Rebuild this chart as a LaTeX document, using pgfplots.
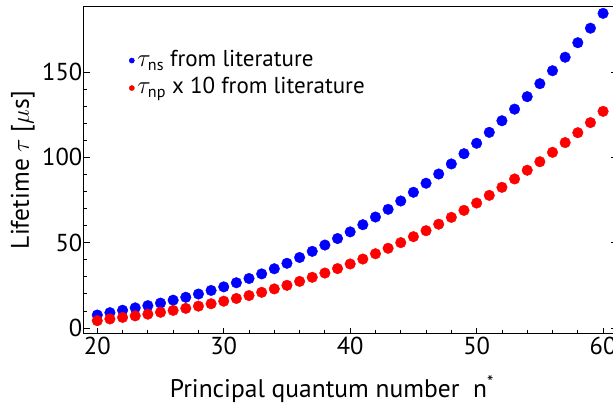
\documentclass[border=0pt]{standalone}
\usepackage{amsmath}
\usepackage{fontspec}
\setmainfont{PT Sans}
\usepackage{pgfplots}
\pgfplotsset{compat=1.18}

\definecolor{nsblue}{RGB}{0,0,255}
\definecolor{npred}{RGB}{255,0,0}

% lifetimes (microseconds); np already multiplied by 10
\pgfplotstableread{
n   ns     np
20  7.6    4.3
21  9.0    5.3
22  10.4   6.2
23  11.8   7.1
24  13.1   8.1
25  14.6   9.2
26  16.3   10.3
27  18.0   11.5
28  19.9   12.8
29  22.0   14.2
30  24.1   15.7
31  26.5   17.3
32  29.0   19.0
33  31.7   20.9
34  34.7   22.9
35  37.9   25.0
36  41.3   27.3
37  44.9   29.7
38  48.6   32.2
39  52.4   34.8
40  56.3   37.5
41  60.5   40.4
42  65.0   43.5
43  69.5   46.7
44  74.4   50.0
45  79.5   53.5
46  84.8   57.0
47  90.2   60.8
48  96.1   64.8
49  102.1  68.9
50  108.2  73.2
51  114.6  77.7
52  121.4  82.4
53  128.2  87.3
54  135.5  92.4
55  143.1  97.4
56  150.7  102.9
57  158.6  108.6
58  167.1  114.4
59  175.6  120.3
60  184.3  126.9
}\lifetimes

\begin{document}
\begin{tikzpicture}
\begin{axis}[
    scale only axis,
    width=533pt,
    height=326.8pt,
    xmin=18.95, xmax=61.1,
    ymin=-3.22, ymax=188.2,
    xtick={20,30,40,50,60},
    ytick={0,50,100,150},
    minor tick num=4,
    xtick pos=left,
    tick align=inside,
    major tick length=6pt,
    minor tick length=3.5pt,
    axis line style={line width=1pt},
    every tick/.style={black, line width=0.8pt},
    /pgf/number format/assume math mode=true,
    tick label style={font=\fontsize{24.5}{28}\selectfont},
    yticklabel style={inner xsep=1.5pt},
    xlabel={Principal quantum number\ \ n\textsuperscript{*}},
    ylabel={Lifetime $\tau$ [$\mu$s]},
    label style={font=\fontsize{25.5}{30}\selectfont},
    xlabel style={at={(axis description cs:0.465,0)}, anchor=base, yshift=-64pt},
    ylabel style={at={(axis description cs:-0.092,0.5)}, anchor=south, inner sep=0pt},
    legend cell align=left,
    legend image code/.code={\draw[#1, mark size=2.6pt] plot coordinates {(0pt,0pt)};},
    legend style={draw=none, fill=none, inner sep=0pt, row sep=3pt,
        at={(axis cs:22.51,148.6)}, anchor=west,
        font=\fontsize{23}{27}\selectfont,
        nodes={inner xsep=3pt, inner ysep=1pt, text height=17pt, text depth=5.5pt}},
]
\addplot[only marks, mark=*, mark size=5.3pt, color=nsblue, mark options={draw=nsblue, fill=nsblue}]
    table[x=n, y=ns] {\lifetimes};
\addlegendentry{$\tau_{\text{ns}}$ from literature}
\addplot[only marks, mark=*, mark size=5.3pt, color=npred, mark options={draw=npred, fill=npred}]
    table[x=n, y=np] {\lifetimes};
\addlegendentry{$\tau_{\text{np}}$ x 10 from literature}
\end{axis}
\pgfresetboundingbox
\path ([xshift=-84pt, yshift=-73.5pt]current axis.south west)
    rectangle ([xshift=529pt, yshift=333.5pt]current axis.south west);
\end{tikzpicture}
\end{document}
